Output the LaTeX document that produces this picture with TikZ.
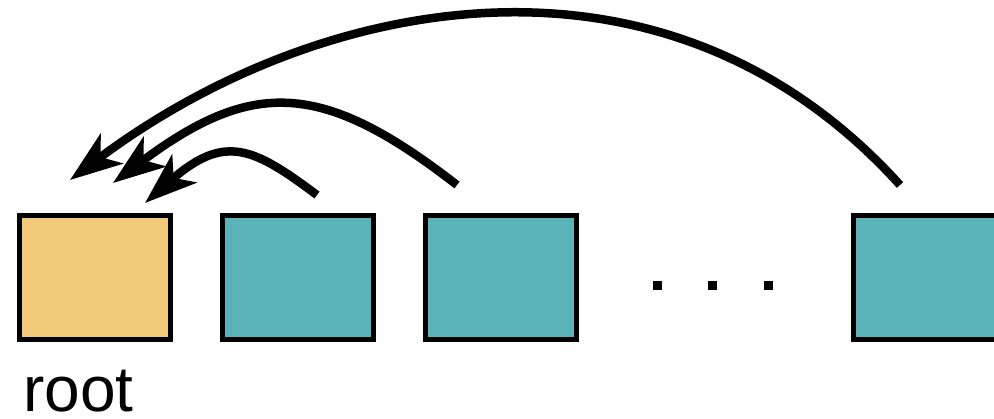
\documentclass[tikz,border=0pt]{standalone}
\usepackage{fontspec}
\setmainfont{Liberation Sans}
\usetikzlibrary{arrows.meta}
\definecolor{rootyellow}{RGB}{240,202,120}
\definecolor{cellteal}{RGB}{91,179,186}
\tikzset{
  cell/.style={draw=black, line width=5pt, minimum width=151pt, minimum height=124pt, inner sep=0pt},
  link/.style={line width=8.5pt, -{Stealth[length=52pt,width=37pt,inset=14pt]}},
  dot/.style={fill=black, minimum size=9pt, inner sep=0pt}
}
\begin{document}
\begin{tikzpicture}[x=1pt,y=-1pt]
\useasboundingbox (0,0) rectangle (994,418);
\clip (0,0) rectangle (994,418);
\node[cell, fill=rootyellow] (b1) at (94.5,277.5) {};
\node[cell, fill=cellteal] (b2) at (298,277.5) {};
\node[cell, fill=cellteal] (b3) at (501,277.5) {};
\node[cell, fill=cellteal] (b4) at (929,277.5) {};
\node[dot] (d1) at (657,285) {};
\node[dot] (d2) at (712,285) {};
\node[dot] (d3) at (768,285) {};
\node[anchor=base west, inner sep=0pt, font=\fontsize{64}{70}\selectfont] (lbl) at (23,411) {root};
\coordinate (s2) at (317,195);
\coordinate (s3) at (457,185);
\coordinate (s4) at (900,185);
\coordinate (t2) at (145,203);
\coordinate (t3) at (113,183);
\coordinate (t4) at (70,180);
\draw[link] (s2) .. controls (254,148) and (225,133) .. (t2);
\draw[link] (s3) .. controls (323,81) and (253,78) .. (t3);
\draw[link] (s4) .. controls (665,-75) and (318,-6) .. (t4);
\end{tikzpicture}
\end{document}
